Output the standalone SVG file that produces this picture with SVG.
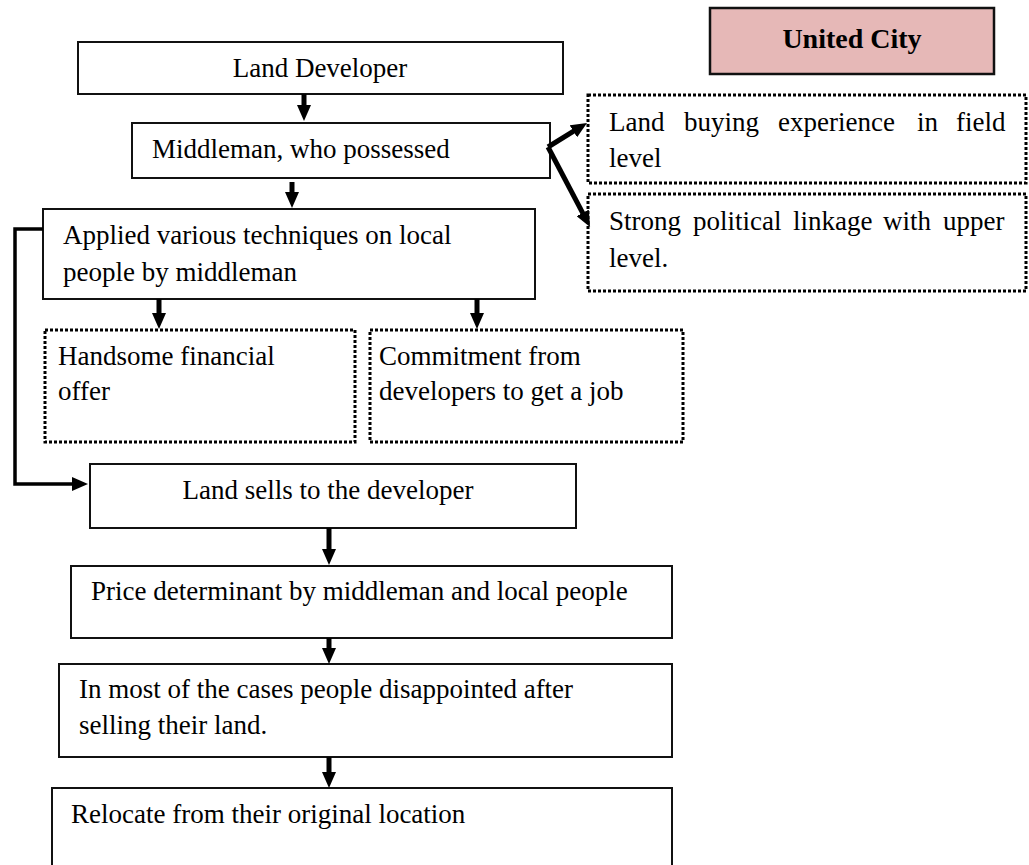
<svg xmlns="http://www.w3.org/2000/svg" width="1029" height="865" viewBox="0 0 1029 865">
  <style>
    text { font-family: "Liberation Serif", "Times New Roman", serif; font-size: 27px; fill: #000; }
    .box { fill: #fff; stroke: #111; stroke-width: 2; }
    .dot { fill: #fff; stroke: #000; stroke-width: 3; stroke-dasharray: 3 2; }
    .title { fill: #e6b8b7; stroke: #111; stroke-width: 2.5; }
    .bold { font-weight: bold; font-size: 28px; }
    .arr { fill: none; stroke: #000; stroke-width: 5; marker-end: url(#head); }
    .elbow { fill: none; stroke: #000; stroke-width: 3.5; marker-end: url(#head); }
  </style>
  <defs>
    <marker id="head" viewBox="0 0 16 14" refX="6" refY="7" markerWidth="16" markerHeight="14" markerUnits="userSpaceOnUse" orient="auto">
      <path d="M0,0 L16,7 L0,14 z" fill="#000"/>
    </marker>
  </defs>

  <rect width="1029" height="865" fill="#fff"/>

  <g id="title">
    <rect class="title" x="710" y="8" width="284" height="66"/>
    <text class="bold" x="852" y="48" text-anchor="middle">United City</text>
  </g>

  <g id="developer">
    <rect class="box" x="78" y="42" width="485" height="52"/>
    <text x="320" y="77" text-anchor="middle">Land Developer</text>
  </g>

  <g id="middleman">
    <rect class="box" x="132" y="123" width="418" height="55"/>
    <text x="152" y="158">Middleman, who possessed</text>
  </g>

  <g id="experience">
    <rect class="dot" x="588" y="95" width="438" height="88"/>
    <text y="131"><tspan x="609">Land</tspan><tspan x="684">buying</tspan><tspan x="778">experience</tspan><tspan x="917">in</tspan><tspan x="956">field</tspan></text>
    <text x="609" y="167">level</text>
  </g>

  <g id="linkage">
    <rect class="dot" x="588" y="194" width="438" height="97"/>
    <text y="230"><tspan x="609">Strong</tspan><tspan x="693">political</tspan><tspan x="793">linkage</tspan><tspan x="883">with</tspan><tspan x="943">upper</tspan></text>
    <text x="609" y="267">level.</text>
  </g>

  <g id="techniques">
    <rect class="box" x="43" y="209" width="492" height="90"/>
    <text x="63" y="244">Applied various techniques on local</text>
    <text x="63" y="281">people by middleman</text>
  </g>

  <g id="financial">
    <rect class="dot" x="45" y="330" width="310" height="112"/>
    <text x="58" y="365">Handsome financial</text>
    <text x="58" y="400">offer</text>
  </g>

  <g id="job">
    <rect class="dot" x="370" y="330" width="313" height="112"/>
    <text x="379" y="365">Commitment from</text>
    <text x="379" y="400">developers to get a job</text>
  </g>

  <g id="sells">
    <rect class="box" x="90" y="464" width="486" height="64"/>
    <text x="328" y="499" text-anchor="middle">Land sells to the developer</text>
  </g>

  <g id="price">
    <rect class="box" x="71" y="566" width="601" height="72"/>
    <text x="91" y="600">Price determinant by middleman and local people</text>
  </g>

  <g id="disappointed">
    <rect class="box" x="59" y="664" width="613" height="93"/>
    <text x="79" y="698">In most of the cases people disappointed after</text>
    <text x="79" y="734">selling their land.</text>
  </g>

  <g id="relocate">
    <rect class="box" x="52" y="788" width="620" height="90"/>
    <text x="71" y="823">Relocate from their original location</text>
  </g>

  <g id="connectors">
    <line class="arr" x1="304" y1="94" x2="304" y2="111"/>
    <line class="arr" x1="292" y1="182" x2="292" y2="198"/>
    <line class="arr" x1="548" y1="147" x2="578.5" y2="128.2"/>
    <line class="arr" x1="548" y1="147" x2="585.4" y2="218.2"/>
    <line class="arr" x1="159" y1="299" x2="159" y2="319"/>
    <line class="arr" x1="477" y1="299" x2="477" y2="319"/>
    <path class="elbow" d="M43,229 H15 V484 H78"/>
    <line class="arr" x1="329" y1="528" x2="329" y2="555"/>
    <line class="arr" x1="329" y1="638" x2="329" y2="654"/>
    <line class="arr" x1="329" y1="757" x2="329" y2="778"/>
  </g>
</svg>
